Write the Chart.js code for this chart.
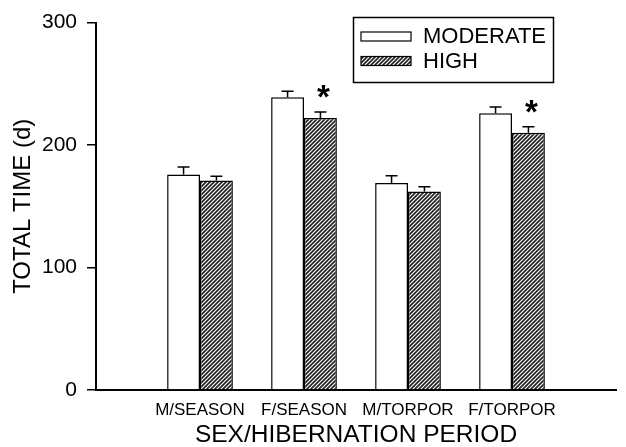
<!DOCTYPE html>
<html>
<head>
<meta charset="utf-8">
<script src="https://cdn.jsdelivr.net/npm/chart.js@4.4.1/dist/chart.umd.min.js"></script>
<style>
  body { margin: 0; background: #fff; }
</style>
</head>
<body>
<canvas id="myChart" width="626" height="447"></canvas>
<script>
  // values
  const categories = ["M/SEASON", "F/SEASON", "M/TORPOR", "F/TORPOR"];
  const moderate = [176, 239, 169, 226];
  const moderateErr = [6, 5, 6, 5];
  const high = [171, 222, 162, 210];
  const highErr = [3.5, 5, 4, 5];
  const highSig = ["", "*", "", "*"];
  const yTicks = [0, 100, 200, 300];

  const FONT = "'Liberation Sans', Arial, sans-serif";
  const canvas = document.getElementById("myChart");
  const ctx = canvas.getContext("2d");

  // diagonal hatch for HIGH bars
  function hatch() {
    const c = document.createElement("canvas");
    c.width = 4; c.height = 4;
    const g = c.getContext("2d");
    g.fillStyle = "#fff";
    g.fillRect(0, 0, 4, 4);
    g.strokeStyle = "#222";
    g.lineWidth = 1.7;
    g.beginPath();
    g.moveTo(-1, 5); g.lineTo(5, -1);
    g.moveTo(-1, 1); g.lineTo(1, -1);
    g.moveTo(3, 5); g.lineTo(5, 3);
    g.stroke();
    return ctx.createPattern(c, "repeat");
  }

  // empty slot at each end so the axis runs past the outer groups
  const pad = (arr) => [null, ...arr, null];
  const labels = ["", ...categories, ""];

  const errorBars = {
    id: "errorBars",
    afterDatasetsDraw(chart) {
      const c = chart.ctx, y = chart.scales.y;
      c.save();
      c.strokeStyle = "#000";
      c.lineWidth = 1.5;
      chart.data.datasets.forEach((ds, d) => {
        chart.getDatasetMeta(d).data.forEach((bar, i) => {
          if (ds.data[i] == null) return;
          const top = y.getPixelForValue(ds.data[i] + ds.errors[i]);
          c.beginPath();
          c.moveTo(bar.x, bar.y);
          c.lineTo(bar.x, top);
          c.moveTo(bar.x - 6, top);
          c.lineTo(bar.x + 6, top);
          c.stroke();
          if (ds.sig && ds.sig[i]) {
            c.fillStyle = "#000";
            c.font = "bold 33px " + FONT;
            c.textAlign = "center";
            c.textBaseline = "alphabetic";
            c.fillText(ds.sig[i], bar.x + 3, top - 4);
          }
        });
      });
      c.restore();
    }
  };

  const boxLegend = {
    id: "boxLegend",
    afterDraw(chart) {
      const c = chart.ctx;
      c.save();
      c.strokeStyle = "#000";
      c.lineWidth = 1.5;
      c.strokeRect(353.5, 17.5, 200, 65);
      chart.data.datasets.forEach((ds, d) => {
        const yy = 32 + d * 24.5;
        c.fillStyle = ds.backgroundColor;
        c.fillRect(361, yy, 50, 9);
        c.lineWidth = 1.2;
        c.strokeRect(361, yy, 50, 9);
        c.fillStyle = "#000";
        c.font = "22px " + FONT;
        c.textAlign = "left";
        c.textBaseline = "middle";
        c.fillText(ds.label, 423, yy + 5);
      });
      c.restore();
    }
  };

  const config = {
    type: "bar",
    data: {
      labels: labels,
      datasets: [
        {
          label: "MODERATE",
          data: pad(moderate),
          errors: pad(moderateErr),
          backgroundColor: "#fff",
          borderColor: "#000",
          borderWidth: 1.5,
          categoryPercentage: 0.632,
          barPercentage: 1
        },
        {
          label: "HIGH",
          data: pad(high),
          errors: pad(highErr),
          sig: pad(highSig),
          backgroundColor: hatch(),
          borderColor: "#000",
          borderWidth: 1.5,
          categoryPercentage: 0.632,
          barPercentage: 1
        }
      ]
    },
    options: {
      responsive: false,
      animation: false,
      layout: { padding: { top: 21, left: 0, right: 0, bottom: 0 } },
      plugins: { legend: { display: false }, tooltip: { enabled: false } },
      scales: {
        x: {
          offset: false,
          grid: { drawOnChartArea: false, drawTicks: false },
          border: { color: "#000", width: 2 },
          ticks: { color: "#000", font: { family: FONT, size: 17 }, padding: 10, maxRotation: 0, autoSkip: false },
          title: { display: true, text: "SEX/HIBERNATION PERIOD", color: "#000",
                   font: { family: FONT, size: 24.5, lineHeight: 1 }, padding: { top: 0, bottom: 0 } },
          afterFit: (s) => { s.height = 57; }
        },
        y: {
          min: 0,
          max: 300,
          afterBuildTicks: (s) => { s.ticks = yTicks.map(v => ({ value: v })); },
          grid: { drawOnChartArea: false, tickLength: 9, color: "#000", lineWidth: 1.5 },
          border: { color: "#000", width: 2 },
          ticks: { color: "#000", font: { family: FONT, size: 21 }, padding: 10 },
          title: { display: true, text: "TOTAL TIME (d)", color: "#000",
                   font: { family: FONT, size: 24, lineHeight: 1 }, padding: { top: 11, bottom: 0 } },
          afterFit: (s) => { s.width = 96; }
        }
      }
    },
    plugins: [errorBars, boxLegend]
  };

  const myChart = new Chart(canvas, config);
</script>
</body>
</html>
